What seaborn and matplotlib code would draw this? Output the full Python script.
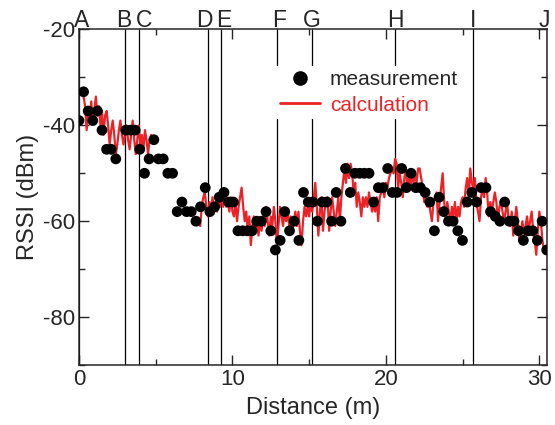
# RSSI vs distance: measured points and calculated curve
import numpy as np
import pandas as pd
import matplotlib
matplotlib.use("Agg")
import matplotlib.pyplot as plt
import seaborn as sns

# measured points (distance in m, RSSI in dBm)
meas_x = [0.0, 0.3, 0.6, 0.9, 1.2, 1.5, 1.8, 2.1, 2.4,
          3.05, 3.35, 3.66, 3.96, 4.27, 4.57, 4.88, 5.18, 5.49, 5.79, 6.1,
          6.4, 6.71, 7.01, 7.32, 7.62, 7.92, 8.23, 8.53, 8.84, 9.14,
          9.45, 9.75, 10.06, 10.36, 10.67, 10.97, 11.28, 11.58, 11.89, 12.19,
          12.5, 12.8, 13.11, 13.41, 13.72, 14.02, 14.33, 14.63, 14.94, 15.24,
          15.54, 15.85, 16.15, 16.46, 16.76, 17.07, 17.37, 17.68, 17.98, 18.29,
          18.59, 18.9, 19.2, 19.51, 19.81, 20.12, 20.42, 20.73, 21.03, 21.34,
          21.64, 21.95, 22.25, 22.56, 22.86, 23.16, 23.47, 23.77, 24.08, 24.38,
          24.69, 24.99, 25.3, 25.6, 25.91, 26.21, 26.52, 26.82, 27.13, 27.43,
          27.74, 28.04, 28.35, 28.65, 28.96, 29.26, 29.57, 29.87, 30.18, 30.48]
meas_y = [-39, -33, -37, -39, -37, -41, -45, -45, -47,
          -41, -41, -41, -45, -50, -47, -43, -47, -47, -50, -50,
          -58, -56, -58, -58, -60, -57, -53, -58, -57, -55,
          -54, -56, -56, -62, -62, -62, -62, -60, -60, -58,
          -62, -66, -64, -58, -62, -60, -64, -54, -56, -56,
          -60, -56, -56, -60, -54, -60, -49, -54, -50, -50,
          -50, -50, -56, -53, -53, -49, -54, -54, -49, -53,
          -50, -53, -53, -54, -56, -62, -55, -58, -60, -60,
          -62, -64, -56, -54, -56, -53, -53, -58, -59, -60,
          -56, -60, -60, -62, -64, -62, -62, -64, -60, -66]

# calculated curve, sampled every 0.1 m, two segments
calc1_start = 0.3
calc1_y = [-34, -36, -41, -37, -39, -35, -39,
           -37, -34, -38, -36, -40, -37, -42, -38, -37, -40,
           -44, -41, -39, -42, -46, -44, -41, -39, -42, -44,
           -42, -40, -43, -45, -42, -39, -43, -46, -43, -40,
           -44, -42, -45, -41, -43, -46, -43, -42]
calc2_start = 7.9
calc2_y = [-61,
           -57, -55, -54, -57, -59, -56, -58, -55, -58, -56,
           -58, -55, -57, -54, -57, -55, -57, -56, -58, -55,
           -58, -59, -56, -60, -57, -55, -53, -57, -60, -58,
           -62, -59, -65, -61, -59, -62, -60, -63, -60, -62,
           -59, -61, -57, -60, -63, -59, -61, -57, -60, -65,
           -61, -57, -59, -61, -58, -60, -58, -61, -59, -62,
           -60, -58, -61, -58, -62, -65, -60, -57, -59, -57,
           -59, -56, -58, -55, -52, -57, -63, -58, -55, -62,
           -58, -56, -55, -62, -58, -55, -58, -61, -58, -55,
           -60, -55, -52, -49, -52, -48, -51, -48, -50, -54,
           -52, -57, -54, -56, -59, -55, -57, -55, -57, -54,
           -56, -58, -56, -58, -55, -60, -55, -54, -53, -55,
           -52, -53, -51, -50, -49, -50, -47, -48, -53, -50,
           -52, -55, -51, -49, -53, -51, -53, -50, -52, -50,
           -52, -49, -49, -51, -53, -56, -54, -57, -56, -58,
           -60, -56, -55, -54, -60, -56, -53, -50, -56, -60,
           -56, -58, -60, -57, -59, -56, -60, -57, -59, -56,
           -55, -57, -53, -51, -55, -49, -52, -53, -51, -56,
           -58, -60, -55, -53, -55, -51, -54, -59, -56, -58,
           -56, -54, -56, -60, -57, -56, -58, -60, -58, -56,
           -60, -61, -58, -63, -60, -57, -60, -64, -62, -60,
           -63, -61, -59, -62, -60, -58, -62, -64, -67, -62,
           -58, -60, -64, -66]

# marker lines along the route and where their letters sit
mark_labels = ["A", "B", "C", "D", "E", "F", "G", "H", "I", "J"]
mark_x = [0.0, 3.0, 3.9, 8.43, 9.25, 12.93, 15.2, 20.6, 25.7, 30.5]
label_x = [0.15, 2.95, 4.25, 8.15, 9.45, 13.05, 15.2, 20.65, 25.7, 30.35]

RED = "#ec2227"
TICK_FS = 16
LABEL_FS = 17
MARK_FS = 16.5
LEG_FS = 15

sns.set_style("ticks")
plt.rcParams["font.family"] = ["Liberation Sans", "DejaVu Sans"]
plt.rcParams["axes.unicode_minus"] = False

meas = pd.DataFrame({"x": meas_x, "rssi": meas_y})
calc = pd.concat([
    pd.DataFrame({"x": calc1_start + 0.1 * np.arange(len(calc1_y)), "rssi": calc1_y, "seg": 1}),
    pd.DataFrame({"x": calc2_start + 0.1 * np.arange(len(calc2_y)), "rssi": calc2_y, "seg": 2}),
])

fig = plt.figure(figsize=(5.55, 4.25), dpi=100)
ax = fig.add_axes([0.1423, 0.1412, 0.8433, 0.7894])

for xv in mark_x:
    ax.axvline(xv, color="black", lw=0.9, zorder=1)

sns.lineplot(data=calc, x="x", y="rssi", units="seg", estimator=None,
             color=RED, lw=1.6, ax=ax, zorder=2)
sns.scatterplot(data=meas, x="x", y="rssi", color="black", s=60,
                edgecolor="none", ax=ax, zorder=3)

ax.set_xlim(0, 30.5)
ax.set_ylim(-90, -20)
ax.set_xticks([0, 10, 20, 30])
ax.set_xticks([5, 15, 25], minor=True)
ax.set_yticks([-80, -60, -40, -20])
ax.set_yticks([-90, -70, -50, -30], minor=True)
ax.tick_params(which="both", direction="in", top=True, right=True,
               labelsize=TICK_FS, width=1)
ax.tick_params(which="major", length=7.5, pad=3)
ax.tick_params(which="minor", length=4)
for sp in ax.spines.values():
    sp.set_linewidth(1.1)

ax.set_xlabel("Distance (m)", fontsize=LABEL_FS, labelpad=5)
ax.set_ylabel("RSSI (dBm)", fontsize=LABEL_FS, labelpad=3)

for lab, xv in zip(mark_labels, label_x):
    ax.text(xv, -20.5, lab, ha="center", va="bottom", fontsize=MARK_FS)

h_meas = plt.Line2D([], [], marker="o", ls="none", color="black", markersize=9.5)
h_calc = plt.Line2D([], [], color=RED, lw=2)
leg = ax.legend([h_meas, h_calc], ["measurement", "calculation"],
                loc="center left", bbox_to_anchor=(0.42, 0.812),
                borderaxespad=0, borderpad=0.2, handlelength=1.95,
                handletextpad=0.45, labelspacing=0.3, fontsize=LEG_FS,
                frameon=True, fancybox=False, framealpha=1)
leg.get_frame().set_edgecolor("none")
leg.get_frame().set_facecolor("white")
leg.get_texts()[1].set_color(RED)
leg.set_zorder(5)

fig.savefig("out.png", dpi=100)
